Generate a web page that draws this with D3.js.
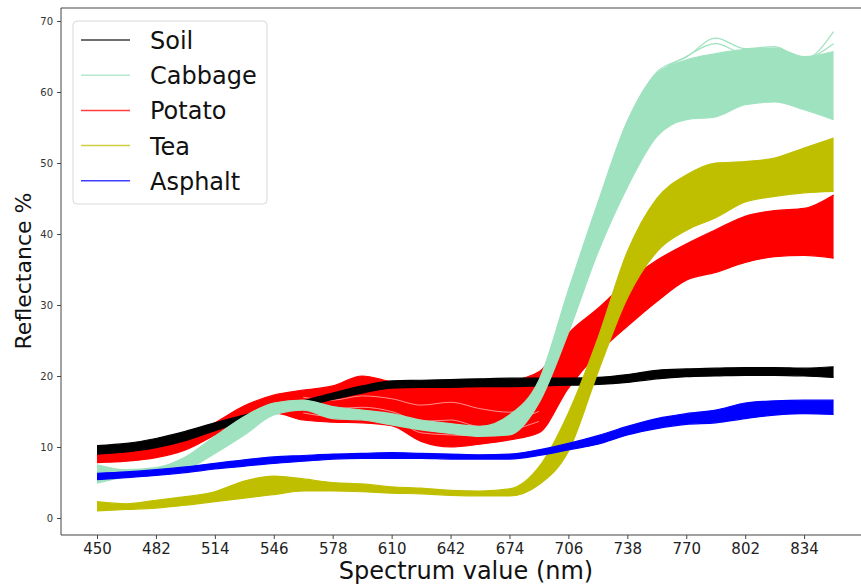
<!DOCTYPE html>
<html>
<head>
<meta charset="utf-8">
<script src="https://cdn.jsdelivr.net/npm/d3@7"></script>
<style>
    body { margin: 0; background: white; }
    svg { display: block; font-family: "DejaVu Sans", sans-serif; }
</style>
</head>
<body>
<div id="chart-div"></div>
<script>
// wavelengths (nm), sampled every 16 nm
var wavelengths = [450, 466, 482, 498, 514, 530, 546, 562, 578, 594, 610, 626, 642,
                   658, 674, 690, 706, 722, 738, 754, 770, 786, 802, 818, 834, 850];

var xTicks = [450, 482, 514, 546, 578, 610, 642, 674, 706, 738, 770, 802, 834];
var yTicks = [0, 10, 20, 30, 40, 50, 60, 70];

var classNames = ["Soil", "Cabbage", "Potato", "Tea", "Asphalt"];
var classColors = ["#000000", "#9fe2bf", "#ff0000", "#bfbf00", "#0000ff"];

// lower / upper envelope of the sample spectra of each class (reflectance %)
var soilLow = [9.0, 9.3, 9.9, 10.9, 12.3, 13.6, 14.7, 15.7, 16.7, 17.6, 18.3, 18.4, 18.4,
               18.5, 18.5, 18.6, 18.7, 18.8, 19.1, 19.6, 19.9, 20.0, 20.1, 20.1, 20.0, 19.8];
var soilHigh = [10.2, 10.5, 11.2, 12.2, 13.4, 14.5, 15.5, 16.5, 17.6, 18.6, 19.3, 19.4, 19.5,
                19.6, 19.7, 19.7, 19.7, 19.8, 20.2, 20.8, 21.0, 21.1, 21.2, 21.2, 21.1, 21.3];

var cabbageLow = [4.9, 5.8, 6.1, 6.8, 9.1, 11.7, 14.5, 15.2, 14.0, 13.8, 13.1, 12.4, 11.9,
                  11.5, 11.7, 16.2, 26.1, 37.4, 46.6, 53.7, 56.1, 56.5, 58.2, 58.6, 57.5, 56.1];
var cabbageHigh = [7.5, 6.8, 7.1, 8.6, 11.5, 14.3, 16.2, 16.6, 15.7, 15.2, 14.7, 13.8, 13.3,
                   12.9, 14.5, 19.4, 32.1, 44.4, 55.9, 62.6, 64.5, 65.4, 66.0, 66.2, 65.0, 65.7];
// a few outlying cabbage spectra at the top of the band
var cabbageOutlier1 = [7.3, 6.7, 7.0, 8.5, 11.4, 14.2, 16.1, 16.5, 15.6, 15.1, 14.6, 13.7, 13.2,
                       12.8, 14.3, 19.2, 31.8, 44.0, 55.5, 62.8, 64.9, 67.6, 66.1, 66.4, 64.6, 68.5];
var cabbageOutlier2 = [7.0, 6.6, 6.9, 8.3, 11.2, 14.0, 16.0, 16.4, 15.5, 15.0, 14.5, 13.6, 13.1,
                       12.7, 14.0, 18.9, 31.4, 43.6, 55.0, 62.2, 65.0, 66.8, 65.4, 65.9, 64.8, 66.8];

var potatoLow = [7.8, 8.0, 8.5, 9.6, 11.7, 13.9, 14.8, 13.8, 13.5, 13.4, 13.0, 10.8, 10.0,
                 10.4, 11.0, 12.0, 18.3, 23.2, 27.0, 30.5, 33.5, 34.6, 36.0, 36.8, 37.0, 36.6];
var potatoHigh = [9.3, 9.5, 9.9, 11.2, 13.4, 15.8, 17.3, 18.0, 18.6, 20.0, 19.2, 18.8, 19.0,
                  19.0, 19.3, 20.6, 26.0, 29.5, 33.3, 36.3, 38.6, 40.6, 42.5, 43.3, 43.6, 45.5];
// sample spectra inside the spread part of the potato band
var potatoMid1 = [8.6, 8.8, 9.2, 10.4, 12.6, 14.9, 16.3, 16.0, 15.4, 15.6, 15.0, 13.6, 13.8,
                  12.9, 13.6, 15.0, 21.8, 26.5, 30.4, 33.6, 36.2, 37.3, 39.4, 40.2, 40.4, 41.0];
var potatoMid2 = [8.9, 9.1, 9.5, 10.8, 13.0, 15.3, 16.8, 17.0, 16.6, 17.2, 16.8, 15.9, 16.3,
                  15.4, 14.9, 16.8, 23.6, 27.9, 31.6, 34.8, 37.3, 38.4, 40.8, 41.6, 41.8, 42.6];
var potatoMid3 = [8.3, 8.5, 8.9, 10.1, 12.2, 14.4, 15.6, 14.8, 14.3, 14.4, 14.1, 12.0, 11.7,
                  11.6, 12.3, 13.6, 20.0, 25.0, 28.9, 32.2, 35.0, 36.0, 37.8, 38.6, 38.8, 39.0];

var teaLow = [1.0, 1.2, 1.4, 1.8, 2.3, 2.8, 3.3, 3.8, 3.8, 3.7, 3.5, 3.4, 3.2,
              3.1, 3.1, 4.7, 9.4, 20.5, 31.0, 37.5, 40.5, 42.3, 44.5, 45.3, 45.8, 46.0];
var teaHigh = [2.3, 2.0, 2.5, 3.0, 3.7, 5.2, 5.9, 5.5, 5.0, 4.8, 4.4, 4.2, 3.9,
               3.8, 4.1, 7.2, 14.8, 25.3, 37.5, 45.0, 48.3, 50.0, 50.2, 50.7, 52.1, 53.5];

var asphaltLow = [5.4, 5.7, 6.0, 6.4, 6.9, 7.3, 7.7, 8.0, 8.3, 8.4, 8.4, 8.4, 8.3,
                  8.3, 8.3, 8.8, 9.6, 10.4, 11.7, 12.6, 13.2, 13.4, 14.0, 14.5, 14.7, 14.6];
var asphaltHigh = [6.3, 6.5, 6.8, 7.2, 7.7, 8.2, 8.6, 8.8, 9.0, 9.1, 9.2, 9.1, 9.0,
                   8.9, 9.0, 9.6, 10.5, 11.6, 12.9, 14.0, 14.7, 15.2, 16.2, 16.5, 16.6, 16.6];

var width = 861,
    height = 586;

// plot frame (right spine falls outside the picture)
var frameLeft = 61, frameTop = 8, frameBottom = 535;

var x = d3.scaleLinear().domain([450, 834]).range([97, 804.1]);
var y = d3.scaleLinear().domain([0, 70]).range([518, 21]);

const svg = d3.select("#chart-div").append("svg")
    .attr("width", width)
    .attr("height", height);

var plot = svg.append("g");

function bandData(low, high) {
    return wavelengths.map(function(w, i) {
        return { w: w, lo: low[i], hi: high[i] };
    });
}

var area = d3.area()
    .curve(d3.curveMonotoneX)
    .x(d => x(d.w))
    .y0(d => y(d.lo))
    .y1(d => y(d.hi));

var line = d3.line()
    .curve(d3.curveMonotoneX)
    .x((d, i) => x(wavelengths[i]))
    .y(d => y(d));

function drawBand(low, high, color, extra) {
    var g = plot.append("g");
    g.append("path")
        .datum(bandData(low, high))
        .attr("d", area)
        .attr("fill", color)
        .attr("stroke", "none");
    [low, high].concat(extra || []).forEach(function(s) {
        g.append("path")
            .datum(s)
            .attr("d", line)
            .attr("fill", "none")
            .attr("stroke", color)
            .attr("stroke-width", 1.2);
    });
}

// drawing order roughly follows what overlaps what in the picture
drawBand(potatoLow, potatoHigh, classColors[2]);
// thin white seams hint at the separate potato spectra
[potatoMid1, potatoMid2, potatoMid3].forEach(function(s) {
    plot.append("path")
        .datum(s.slice(7, 16))
        .attr("d", d3.line().curve(d3.curveMonotoneX)
            .x((d, i) => x(wavelengths[i + 7]))
            .y(d => y(d)))
        .attr("fill", "none")
        .attr("stroke", "white")
        .attr("stroke-width", 0.8)
        .attr("opacity", 0.7);
});
drawBand(soilLow, soilHigh, classColors[0]);
drawBand(cabbageLow, cabbageHigh, classColors[1], [cabbageOutlier1, cabbageOutlier2]);
drawBand(teaLow, teaHigh, classColors[3]);
drawBand(asphaltLow, asphaltHigh, classColors[4]);

// spines
var spineColor = "#444";
svg.append("line")
    .attr("x1", frameLeft).attr("x2", frameLeft)
    .attr("y1", frameTop).attr("y2", frameBottom)
    .attr("stroke", spineColor).attr("stroke-width", 1);
svg.append("line")
    .attr("x1", frameLeft).attr("x2", width)
    .attr("y1", frameBottom).attr("y2", frameBottom)
    .attr("stroke", spineColor).attr("stroke-width", 1);
svg.append("line")
    .attr("x1", frameLeft).attr("x2", width)
    .attr("y1", frameTop).attr("y2", frameTop)
    .attr("stroke", spineColor).attr("stroke-width", 1);

// x axis
var xAxis = svg.append("g")
    .attr("transform", "translate(0," + frameBottom + ")")
    .call(d3.axisBottom(x).tickValues(xTicks).tickSize(4).tickPadding(4).tickFormat(d3.format("d")));
xAxis.select(".domain").remove();
xAxis.selectAll("line").attr("stroke", spineColor);
xAxis.selectAll("text")
    .attr("font-size", "15px")
    .attr("font-family", "DejaVu Sans")
    .attr("fill", "#222");

// y axis
var yAxis = svg.append("g")
    .attr("transform", "translate(" + frameLeft + ",0)")
    .call(d3.axisLeft(y).tickValues(yTicks).tickSize(4).tickPadding(4));
yAxis.select(".domain").remove();
yAxis.selectAll("line").attr("stroke", spineColor);
yAxis.selectAll("text")
    .attr("font-size", "10px")
    .attr("font-family", "DejaVu Sans")
    .attr("fill", "#333");

// axis titles
svg.append("text")
    .attr("x", 466)
    .attr("y", 579)
    .attr("text-anchor", "middle")
    .attr("font-size", "24px")
    .attr("fill", "#111")
    .text("Spectrum value (nm)");

svg.append("text")
    .attr("transform", "translate(31,271) rotate(-90)")
    .attr("text-anchor", "middle")
    .attr("font-size", "22px")
    .attr("fill", "#111")
    .text("Reflectance %");

// legend
var legend = svg.append("g");
legend.append("rect")
    .attr("x", 73).attr("y", 21)
    .attr("width", 194).attr("height", 183)
    .attr("rx", 4)
    .attr("fill", "white")
    .attr("fill-opacity", 0.8)
    .attr("stroke", "#d9d9d9");

var legendRows = legend.selectAll("g.row")
    .data(classNames)
    .join("g")
    .attr("class", "row")
    .attr("transform", (d, i) => "translate(0," + (40 + i * 35.2) + ")");

legendRows.append("line")
    .attr("x1", 81).attr("x2", 130)
    .attr("y1", 0).attr("y2", 0)
    .attr("stroke", (d, i) => classColors[i])
    .attr("stroke-width", 1.5)
    .attr("opacity", 0.75);

legendRows.append("text")
    .attr("x", 150)
    .attr("y", 9)
    .attr("font-size", "24px")
    .attr("fill", "#111")
    .text(d => d);
</script>
</body>
</html>
